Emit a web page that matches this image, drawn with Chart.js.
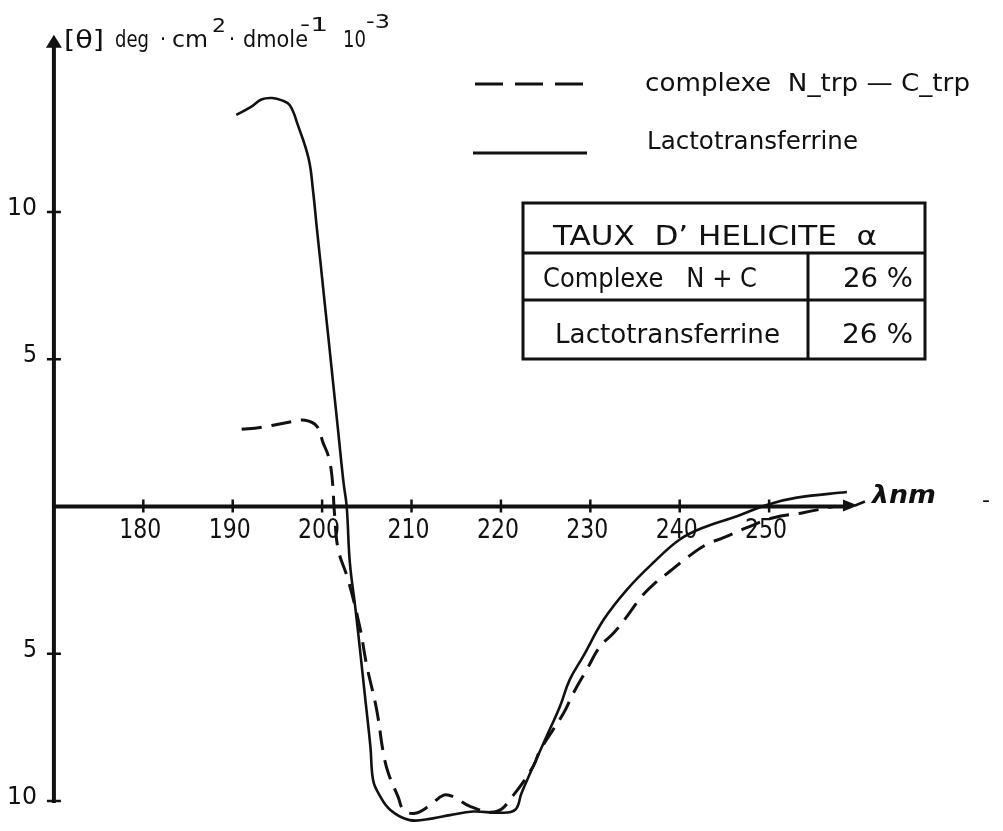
<!DOCTYPE html>
<html>
<head>
<meta charset="utf-8">
<script src="https://cdn.jsdelivr.net/npm/chart.js@4.4.1/dist/chart.umd.min.js"></script>
<style>
  html, body { margin: 0; padding: 0; background: #fff; }
  #wrap { width: 1003px; height: 831px; }
</style>
</head>
<body>
<div id="wrap"><canvas id="cd" width="1003" height="831"></canvas></div>
<script>
// CD spectra, wavelength (nm) vs [theta] (deg.cm2.dmole-1 x 10^-3)
const lactoNm = [190.4, 192.0, 193.2, 194.4, 195.5, 196.4, 197.3, 198.5, 199.0, 199.4, 199.8, 200.3, 200.7, 201.25,
  201.8, 202.4, 202.75, 203.1, 203.7, 204.2, 204.8, 205.4, 205.7, 206.3, 207.6, 209.8, 212.4, 214.3, 216.9, 219.9,
  221.6, 222.3, 223.6, 225.1, 226.6, 227.7, 229.2, 231.5, 234.1, 237.0, 240.0, 242.6, 246.4, 249.9, 253.1, 258.7];
const lactoVal = [13.3, 13.56, 13.82, 13.87, 13.79, 13.62, 12.94, 11.8, 10.68, 9.48, 8.34, 6.88, 5.74, 4.14,
  2.54, 0.8, 0.0, -1.9, -3.4, -4.76, -6.46, -8.15, -9.29, -9.74, -10.3, -10.65, -10.59, -10.48, -10.36, -10.4,
  -10.3, -9.74, -8.83, -7.81, -6.79, -5.88, -5.09, -3.84, -2.82, -1.92, -1.12, -0.72, -0.33, 0.07, 0.30, 0.49];

const complexNm = [191.0, 193.05, 196.4, 198.1, 199.4, 200.1, 200.7, 201.1, 201.4, 201.8, 202.9, 204.2, 204.97,
  206.1, 206.85, 207.4, 208.5, 209.1, 210.4, 212.1, 213.6, 214.7, 216.6, 219.5, 221.4, 223.6, 224.4, 227.0, 228.1,
  229.6, 231.1, 232.6, 234.1, 235.75, 237.05, 238.9, 240.8, 243.0, 244.9, 247.5, 250.5, 253.8, 257.4];
const complexVal = [2.62, 2.68, 2.87, 2.93, 2.73, 2.17, 1.71, 1.03, -0.3, -1.46, -2.48, -4.07, -5.37,
  -6.9, -8.37, -9.05, -9.86, -10.3, -10.42, -10.14, -9.8, -9.86, -10.19, -10.36, -9.8, -8.83, -8.27, -7.02, -6.34,
  -5.54, -4.75, -4.3, -3.73, -3.05, -2.65, -2.2, -1.74, -1.29, -1.06, -0.72, -0.38, -0.21, 0.01];

const xTicks = [180, 190, 200, 210, 220, 230, 240, 250];
const yTicks = [10, 5, -5, -10];
const legendLabels = ["complexe  N_trp — C_trp", "Lactotransferrine"];
const tableTitle = "TAUX  D’ HELICITE  α";
const tableRows = [["Complexe   N + C", "26 %"], ["Lactotransferrine", "26 %"]];

const X_MIN = 163.97, X_MAX = 276.16, Y_MIN = -11.02, Y_MAX = 17.2;
const Y_AXIS_AT = 170, X_AXIS_END = 259.6, Y_AXIS_TOP = 15.95;
const INK = "#111";

function toPoints(xs, ys) {
  return xs.map((x, i) => ({ x, y: ys[i] }));
}

// squeeze or stretch a string so it spans x0..x1
function fitText(ctx, str, x0, x1, baseline, font) {
  ctx.font = font;
  const w = ctx.measureText(str).width;
  ctx.save();
  ctx.translate(x0, baseline);
  ctx.scale((x1 - x0) / w, 1);
  ctx.textAlign = "left";
  ctx.textBaseline = "alphabetic";
  ctx.fillText(str, 0, 0);
  ctx.restore();
}

const axesPlugin = {
  id: "handAxes",
  beforeDatasetsDraw(chart) {
    const { ctx, scales: { x, y } } = chart;
    const x0 = x.getPixelForValue(Y_AXIS_AT);
    const y0 = y.getPixelForValue(0);
    const xEnd = x.getPixelForValue(X_AXIS_END);
    const yTop = y.getPixelForValue(Y_AXIS_TOP);
    const yBot = y.getPixelForValue(-10);
    ctx.save();
    ctx.strokeStyle = INK;
    ctx.fillStyle = INK;
    ctx.lineCap = "butt";

    // axis lines
    ctx.lineWidth = 4;
    ctx.beginPath();
    ctx.moveTo(x0, yBot + 2);
    ctx.lineTo(x0, yTop + 8);
    ctx.moveTo(x0 - 2, y0);
    ctx.lineTo(xEnd - 8, y0);
    ctx.stroke();

    // arrow heads
    ctx.beginPath();
    ctx.moveTo(x0, yTop - 2);
    ctx.lineTo(x0 - 8, yTop + 11);
    ctx.lineTo(x0 + 8, yTop + 11);
    ctx.closePath();
    ctx.fill();
    ctx.beginPath();
    ctx.moveTo(xEnd + 3, y0 - 1);
    ctx.lineTo(xEnd - 12, y0 - 7);
    ctx.lineTo(xEnd - 12, y0 + 5);
    ctx.closePath();
    ctx.fill();
    ctx.lineWidth = 2.5;
    ctx.beginPath();
    ctx.moveTo(xEnd, y0 - 1);
    ctx.lineTo(xEnd + 10, y0 - 5);
    ctx.stroke();

    // tick marks
    ctx.lineWidth = 2.5;
    ctx.beginPath();
    xTicks.forEach(t => {
      const px = x.getPixelForValue(t);
      ctx.moveTo(px, y0 - 7);
      ctx.lineTo(px, y0 + 6);
    });
    yTicks.forEach(t => {
      const py = y.getPixelForValue(t);
      ctx.moveTo(x0 - 7, py);
      ctx.lineTo(x0 + 7, py);
    });
    ctx.stroke();

    // tick labels (magnitudes only, as lettered on the axis)
    xTicks.forEach(t => {
      const px = x.getPixelForValue(t);
      fitText(ctx, String(t), px - 24, px + 18, y0 + 32, "27px 'DejaVu Sans Condensed'");
    });
    yTicks.forEach(t => {
      const py = y.getPixelForValue(t);
      const s = String(Math.abs(t));
      const w = s.length === 2 ? 30 : 14;
      fitText(ctx, s, x0 - 17 - w, x0 - 17, py + 3, "25px 'DejaVu Sans'");
    });
    ctx.restore();
  },
  afterDraw(chart) {
    const { ctx } = chart;
    ctx.save();
    ctx.fillStyle = INK;
    ctx.strokeStyle = INK;

    // y axis title
    fitText(ctx, "[θ]", 64, 104, 48, "25px 'DejaVu Sans'");
    fitText(ctx, "deg", 115, 149, 47, "23px 'DejaVu Sans'");
    fitText(ctx, "·", 160, 166, 46, "22px 'DejaVu Sans'");
    fitText(ctx, "cm", 172, 208, 47, "23px 'DejaVu Sans'");
    fitText(ctx, "2", 212, 226, 32, "19px 'DejaVu Sans'");
    fitText(ctx, "·", 229, 235, 46, "22px 'DejaVu Sans'");
    fitText(ctx, "dmole", 243, 308, 47, "23px 'DejaVu Sans'");
    fitText(ctx, "-1", 300, 328, 31, "19px 'DejaVu Sans'");
    fitText(ctx, "10", 343, 366, 47, "23px 'DejaVu Sans'");
    fitText(ctx, "-3", 366, 390, 28, "19px 'DejaVu Sans'");

    // x axis title
    fitText(ctx, "λnm", 872, 936, 503, "bold italic 24px 'DejaVu Sans'");
    fitText(ctx, "-", 982, 990, 507, "22px 'DejaVu Sans'");

    // legend
    ctx.lineWidth = 3;
    ctx.setLineDash([28, 12]);
    ctx.beginPath();
    ctx.moveTo(475, 84);
    ctx.lineTo(590, 84);
    ctx.stroke();
    ctx.setLineDash([]);
    ctx.beginPath();
    ctx.moveTo(473, 153);
    ctx.lineTo(587, 153);
    ctx.stroke();
    fitText(ctx, legendLabels[0], 645, 970, 91, "25px 'DejaVu Sans'");
    fitText(ctx, legendLabels[1], 647, 858, 149, "25px 'DejaVu Sans'");

    // helicity table
    const tx0 = 523, tx1 = 925, ty0 = 203, ty1 = 253, ty2 = 300, ty3 = 359, tcol = 808;
    ctx.lineWidth = 3;
    ctx.strokeRect(tx0, ty0, tx1 - tx0, ty3 - ty0);
    ctx.beginPath();
    ctx.moveTo(tx0, ty1); ctx.lineTo(tx1, ty1);
    ctx.moveTo(tx0, ty2); ctx.lineTo(tx1, ty2);
    ctx.moveTo(tcol, ty1); ctx.lineTo(tcol, ty3);
    ctx.stroke();
    fitText(ctx, tableTitle, 553, 877, 245, "27px 'DejaVu Sans'");
    fitText(ctx, tableRows[0][0], 543, 757, 287, "26px 'DejaVu Sans'");
    fitText(ctx, tableRows[0][1], 843, 913, 287, "26px 'DejaVu Sans'");
    fitText(ctx, tableRows[1][0], 555, 780, 343, "26px 'DejaVu Sans'");
    fitText(ctx, tableRows[1][1], 842, 913, 343, "26px 'DejaVu Sans'");
    ctx.restore();
  }
};

new Chart(document.getElementById("cd"), {
  type: "line",
  data: {
    datasets: [
      {
        label: legendLabels[0],
        data: toPoints(complexNm, complexVal),
        borderColor: INK,
        borderWidth: 3,
        borderDash: [20, 10],
        pointRadius: 0,
        tension: 0.4,
        fill: false,
      },
      {
        label: legendLabels[1],
        data: toPoints(lactoNm, lactoVal),
        borderColor: INK,
        borderWidth: 2.6,
        pointRadius: 0,
        tension: 0.4,
        fill: false,
      },
    ],
  },
  options: {
    responsive: false,
    animation: false,
    devicePixelRatio: 1,
    layout: { padding: 0 },
    plugins: { legend: { display: false }, tooltip: { enabled: false } },
    scales: {
      x: { type: "linear", min: X_MIN, max: X_MAX, display: false },
      y: { type: "linear", min: Y_MIN, max: Y_MAX, display: false },
    },
  },
  plugins: [axesPlugin],
});
</script>
</body>
</html>
